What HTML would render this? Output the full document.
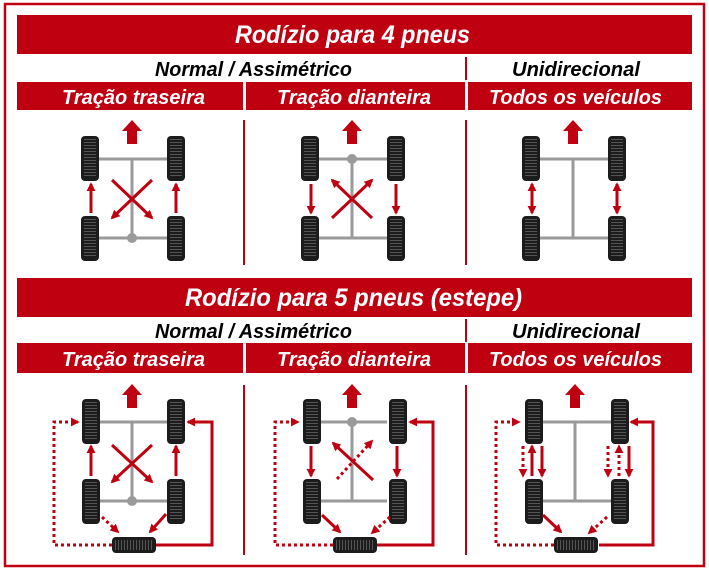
<!DOCTYPE html>
<html><head><meta charset="utf-8"><style>
html,body{margin:0;padding:0;background:#fff;}
svg{display:block;}
.t{font-family:"Liberation Sans",sans-serif;font-style:italic;font-weight:bold;}
</style></head><body>
<svg width="709" height="570" viewBox="0 0 709 570" xmlns="http://www.w3.org/2000/svg">
<defs>
<marker id="a" viewBox="0 0 10 10" refX="8" refY="5" markerWidth="9" markerHeight="9" markerUnits="userSpaceOnUse" orient="auto-start-reverse"><path d="M0,0 L10,5 L0,10 z" fill="#bf0010"/></marker>
<pattern id="tv" width="4" height="3" patternUnits="userSpaceOnUse"><rect width="4" height="3" fill="#1c1c1c"/><rect y="0" width="4" height="1" fill="#555"/></pattern>
<pattern id="th" width="3" height="4" patternUnits="userSpaceOnUse"><rect width="3" height="4" fill="#1c1c1c"/><rect x="0" width="1" height="4" fill="#555"/></pattern>
<g id="tire"><rect width="18" height="45" rx="4" fill="#1c1c1c"/><rect x="3" y="3" width="12" height="39" fill="url(#tv)"/></g>
<g id="spare"><rect width="44" height="16" rx="4" fill="#1c1c1c"/><rect x="3" y="3" width="38" height="10" fill="url(#th)"/></g>
<polygon id="up" points="0,0 -10,11 -5,11 -5,24 5,24 5,11 10,11" fill="#bf0010"/>
</defs>

<rect x="5" y="4" width="699" height="562" fill="none" stroke="#bf0010" stroke-width="2.5"/>

<!-- top header -->
<rect x="17" y="15" width="675" height="39" fill="#bf0010"/>
<text x="235" y="43" class="t" font-size="25" fill="#fff" textLength="235" lengthAdjust="spacingAndGlyphs">Rodízio para 4 pneus</text>
<text x="155" y="76" class="t" font-size="20" fill="#000" textLength="197" lengthAdjust="spacingAndGlyphs">Normal / Assimétrico</text>
<text x="512" y="76" class="t" font-size="20" fill="#000" textLength="128" lengthAdjust="spacingAndGlyphs">Unidirecional</text>
<rect x="465" y="57" width="2" height="23" fill="#bf0010"/>
<rect x="17" y="82" width="226" height="28" fill="#bf0010"/>
<rect x="246" y="82" width="219" height="28" fill="#bf0010"/>
<rect x="468" y="82" width="224" height="28" fill="#bf0010"/>
<text x="62" y="104" class="t" font-size="20" fill="#fff" textLength="143" lengthAdjust="spacingAndGlyphs">Tração traseira</text>
<text x="277" y="104" class="t" font-size="20" fill="#fff" textLength="154" lengthAdjust="spacingAndGlyphs">Tração dianteira</text>
<text x="489" y="104" class="t" font-size="20" fill="#fff" textLength="173" lengthAdjust="spacingAndGlyphs">Todos os veículos</text>
<rect x="243" y="120" width="2" height="145" fill="#bf0010"/>
<rect x="465" y="120" width="2" height="145" fill="#bf0010"/>

<!-- bottom header -->
<rect x="17" y="278" width="675" height="39" fill="#bf0010"/>
<text x="185" y="306" class="t" font-size="25" fill="#fff" textLength="337" lengthAdjust="spacingAndGlyphs">Rodízio para 5 pneus (estepe)</text>
<text x="155" y="338" class="t" font-size="20" fill="#000" textLength="197" lengthAdjust="spacingAndGlyphs">Normal / Assimétrico</text>
<text x="512" y="338" class="t" font-size="20" fill="#000" textLength="128" lengthAdjust="spacingAndGlyphs">Unidirecional</text>
<rect x="465" y="319" width="2" height="23" fill="#bf0010"/>
<rect x="17" y="343" width="226" height="30" fill="#bf0010"/>
<rect x="246" y="343" width="219" height="30" fill="#bf0010"/>
<rect x="468" y="343" width="224" height="30" fill="#bf0010"/>
<text x="62" y="366" class="t" font-size="20" fill="#fff" textLength="143" lengthAdjust="spacingAndGlyphs">Tração traseira</text>
<text x="277" y="366" class="t" font-size="20" fill="#fff" textLength="154" lengthAdjust="spacingAndGlyphs">Tração dianteira</text>
<text x="489" y="366" class="t" font-size="20" fill="#fff" textLength="173" lengthAdjust="spacingAndGlyphs">Todos os veículos</text>
<rect x="243" y="385" width="2" height="170" fill="#bf0010"/>
<rect x="465" y="385" width="2" height="170" fill="#bf0010"/>

<g stroke-width="3" fill="none">
<!-- TOP col1 -->
<g transform="translate(132,0)">
<use href="#up" transform="translate(0,120)"/>
<g stroke="#9a9a9a"><line x1="-33" y1="159" x2="35" y2="159"/><line x1="-33" y1="238" x2="35" y2="238"/><line x1="0" y1="159" x2="0" y2="238"/></g>
<circle cx="0" cy="238" r="5" fill="#9a9a9a" stroke="none"/>
<use href="#tire" x="-51" y="136"/><use href="#tire" x="-51" y="216"/><use href="#tire" x="35" y="136"/><use href="#tire" x="35" y="216"/>
<g stroke="#bf0010"><line x1="-41" y1="213" x2="-41" y2="184" marker-end="url(#a)"/><line x1="44" y1="213" x2="44" y2="184" marker-end="url(#a)"/>
<line x1="20" y1="180" x2="-20" y2="218" marker-end="url(#a)"/><line x1="-20" y1="180" x2="20" y2="218" marker-end="url(#a)"/></g>
</g>
<!-- TOP col2 -->
<g transform="translate(352,0)">
<use href="#up" transform="translate(0,120)"/>
<g stroke="#9a9a9a"><line x1="-33" y1="159" x2="35" y2="159"/><line x1="-33" y1="238" x2="35" y2="238"/><line x1="0" y1="159" x2="0" y2="238"/></g>
<circle cx="0" cy="159" r="5" fill="#9a9a9a" stroke="none"/>
<use href="#tire" x="-51" y="136"/><use href="#tire" x="-51" y="216"/><use href="#tire" x="35" y="136"/><use href="#tire" x="35" y="216"/>
<g stroke="#bf0010"><line x1="-41" y1="184" x2="-41" y2="213" marker-end="url(#a)"/><line x1="44" y1="184" x2="44" y2="213" marker-end="url(#a)"/>
<line x1="20" y1="218" x2="-20" y2="180" marker-end="url(#a)"/><line x1="-20" y1="218" x2="20" y2="180" marker-end="url(#a)"/></g>
</g>
<!-- TOP col3 -->
<g transform="translate(573,0)">
<use href="#up" transform="translate(0,120)"/>
<g stroke="#9a9a9a"><line x1="-33" y1="159" x2="35" y2="159"/><line x1="-33" y1="238" x2="35" y2="238"/><line x1="0" y1="159" x2="0" y2="238"/></g>
<use href="#tire" x="-51" y="136"/><use href="#tire" x="-51" y="216"/><use href="#tire" x="35" y="136"/><use href="#tire" x="35" y="216"/>
<g stroke="#bf0010"><line x1="-41" y1="184" x2="-41" y2="213" marker-start="url(#a)" marker-end="url(#a)"/><line x1="44" y1="184" x2="44" y2="213" marker-start="url(#a)" marker-end="url(#a)"/></g>
</g>

<!-- BOTTOM col1 -->
<g transform="translate(132,0)">
<use href="#up" transform="translate(0,384)"/>
<g stroke="#9a9a9a"><line x1="-33" y1="422" x2="35" y2="422"/><line x1="-33" y1="501" x2="35" y2="501"/><line x1="0" y1="422" x2="0" y2="501"/></g>
<circle cx="0" cy="501" r="5" fill="#9a9a9a" stroke="none"/>
<use href="#tire" x="-50" y="399"/><use href="#tire" x="-50" y="479"/><use href="#tire" x="35" y="399"/><use href="#tire" x="35" y="479"/>
<use href="#spare" x="-20" y="537"/>
<g stroke="#bf0010">
<line x1="-41" y1="476" x2="-41" y2="446" marker-end="url(#a)"/><line x1="44" y1="476" x2="44" y2="446" marker-end="url(#a)"/>
<line x1="20" y1="445" x2="-20" y2="482" marker-end="url(#a)"/><line x1="-20" y1="445" x2="20" y2="482" marker-end="url(#a)"/>
<path d="M-20,545 H-78 V422 H-54" stroke-dasharray="3,3" marker-end="url(#a)"/>
<path d="M24,545 H80 V422 H56" marker-end="url(#a)"/>
<line x1="-30" y1="517" x2="-14" y2="532" stroke-dasharray="3,3" marker-end="url(#a)"/>
<line x1="34" y1="514" x2="18" y2="532" marker-end="url(#a)"/>
</g>
</g>
<!-- BOTTOM col2 -->
<g transform="translate(352,0)">
<use href="#up" transform="translate(0,384)"/>
<g stroke="#9a9a9a"><line x1="-33" y1="422" x2="35" y2="422"/><line x1="-33" y1="501" x2="35" y2="501"/><line x1="0" y1="422" x2="0" y2="501"/></g>
<circle cx="0" cy="422" r="5" fill="#9a9a9a" stroke="none"/>
<use href="#tire" x="-49" y="399"/><use href="#tire" x="-49" y="479"/><use href="#tire" x="37" y="399"/><use href="#tire" x="37" y="479"/>
<use href="#spare" x="-19" y="537"/>
<g stroke="#bf0010">
<line x1="-41" y1="446" x2="-41" y2="476" marker-end="url(#a)"/><line x1="45" y1="446" x2="45" y2="476" marker-end="url(#a)"/>
<line x1="21" y1="480" x2="-19" y2="443" marker-end="url(#a)"/>
<line x1="-15" y1="479" x2="20" y2="441" stroke-dasharray="3,3" marker-end="url(#a)"/>
<path d="M-19,545 H-77 V422 H-54" stroke-dasharray="3,3" marker-end="url(#a)"/>
<path d="M25,545 H81 V422 H58" marker-end="url(#a)"/>
<line x1="-30" y1="515" x2="-12" y2="532" marker-end="url(#a)"/>
<line x1="38" y1="517" x2="20" y2="533" stroke-dasharray="3,3" marker-end="url(#a)"/>
</g>
</g>
<!-- BOTTOM col3 -->
<g transform="translate(575,0)">
<use href="#up" transform="translate(0,384)"/>
<g stroke="#9a9a9a"><line x1="-33" y1="422" x2="36" y2="422"/><line x1="-33" y1="501" x2="36" y2="501"/><line x1="0" y1="422" x2="0" y2="501"/></g>
<use href="#tire" x="-50" y="399"/><use href="#tire" x="-50" y="479"/><use href="#tire" x="36" y="399"/><use href="#tire" x="36" y="479"/>
<use href="#spare" x="-21" y="537"/>
<g stroke="#bf0010">
<line x1="-52" y1="446" x2="-52" y2="476" stroke-dasharray="3,3" marker-end="url(#a)"/>
<line x1="-43" y1="476" x2="-43" y2="446" marker-end="url(#a)"/>
<line x1="-33" y1="446" x2="-33" y2="476" marker-end="url(#a)"/>
<line x1="33" y1="446" x2="33" y2="476" stroke-dasharray="3,3" marker-end="url(#a)"/>
<line x1="44" y1="476" x2="44" y2="446" stroke-dasharray="3,3" marker-end="url(#a)"/>
<line x1="54" y1="446" x2="54" y2="476" marker-end="url(#a)"/>
<path d="M-21,545 H-79 V422 H-56" stroke-dasharray="3,3" marker-end="url(#a)"/>
<path d="M24,545 H78 V422 H56" marker-end="url(#a)"/>
<line x1="-32" y1="515" x2="-14" y2="532" marker-end="url(#a)"/>
<line x1="32" y1="517" x2="14" y2="533" stroke-dasharray="3,3" marker-end="url(#a)"/>
</g>
</g>
</g>
</svg>
</body></html>
